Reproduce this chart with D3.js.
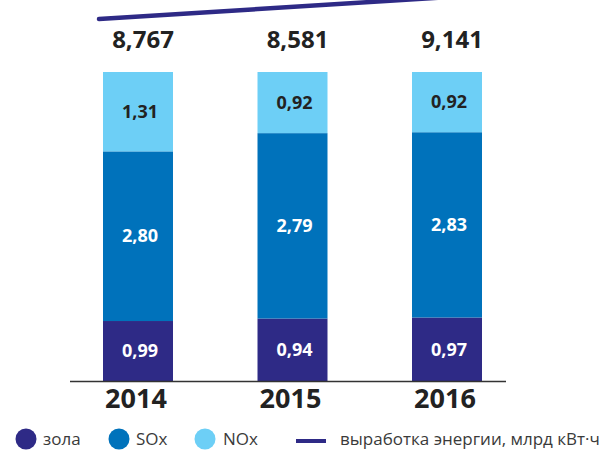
<!DOCTYPE html>
<html>
<head>
<meta charset="utf-8">
<script src="https://cdn.jsdelivr.net/npm/d3@7"></script>
<style>
  body { margin: 0; background: #fff; }
  svg { display: block; font-family: 'Open Sans', sans-serif; }
</style>
</head>
<body>
<div id="container"></div>
<script>
const width = 608
const height = 453

// data
const years = ['2014', '2015', '2016']
const zola = [0.99, 0.94, 0.97]
const sox = [2.80, 2.79, 2.83]
const nox = [1.31, 0.92, 0.92]
const generation = [8.767, 8.581, 9.141]

const seriesNames = ['zola', 'sox', 'nox']
const legendLabels = ['зола', 'SOx', 'NOx']
const lineLabel = 'выработка энергии, млрд кВт·ч'
const colors = { zola: '#2e2a86', sox: '#0072bb', nox: '#6dcff6' }
const labelColors = { zola: '#fff', sox: '#fff', nox: '#222' }

const rows = years.map((y, i) => ({ year: y, zola: zola[i], sox: sox[i], nox: nox[i] }))

const svg = d3.select('div#container').append('svg')
    .attr('width', width)
    .attr('height', height)

//----------------------------SCALES----------------------------//
const xScale = d3.scaleBand()
    .domain(years)
    .range([25.75, 559.25])
    .paddingInner(0.547)
    .paddingOuter(0.5)

const yScale = d3.scaleLinear().domain([0, 1]).range([381, 72])

const stack = d3.stack().keys(seriesNames).offset(d3.stackOffsetExpand)
const stacked = stack(rows)

const fmt = v => d3.format('.2f')(v).replace('.', ',')

//-----------------------------BARS-----------------------------//
const layers = svg.selectAll('g.layer')
    .data(stacked)
    .enter()
    .append('g')
    .attr('class', 'layer')
    .attr('fill', d => colors[d.key])

layers.selectAll('rect')
    .data(d => d)
    .enter()
    .append('rect')
    .attr('x', d => xScale(d.data.year))
    .attr('width', xScale.bandwidth())
    .attr('y', d => yScale(d[1]))
    .attr('height', d => yScale(d[0]) - yScale(d[1]))

layers.selectAll('text')
    .data(d => d.map(p => ({ p: p, key: d.key })))
    .enter()
    .append('text')
    .attr('x', d => xScale(d.p.data.year) + xScale.bandwidth() / 2 + 2)
    .attr('y', d => (yScale(d.p[0]) + yScale(d.p[1])) / 2)
    .attr('dy', '0.35em')
    .attr('text-anchor', 'middle')
    .attr('fill', d => labelColors[d.key])
    .style('font-size', '18px')
    .style('font-weight', 700)
    .text(d => fmt(d.p.data[d.key]))

//-----------------------------AXIS-----------------------------//
svg.append('line')
    .attr('x1', 70)
    .attr('x2', 506)
    .attr('y1', yScale(0) + 0.5)
    .attr('y2', yScale(0) + 0.5)
    .attr('stroke', '#333')
    .attr('stroke-width', 1.5)

svg.selectAll('text.year')
    .data(years)
    .enter()
    .append('text')
    .attr('class', 'year')
    .attr('x', d => xScale(d) + xScale.bandwidth() / 2 - 2)
    .attr('y', 408)
    .attr('text-anchor', 'middle')
    .attr('fill', '#222')
    .style('font-size', '27px')
    .style('font-weight', 700)
    .text(d => d)

// totals (generation)
svg.selectAll('text.total')
    .data(years)
    .enter()
    .append('text')
    .attr('class', 'total')
    .attr('x', d => xScale(d) + xScale.bandwidth() / 2 + 5)
    .attr('y', 48)
    .attr('text-anchor', 'middle')
    .attr('fill', '#222')
    .style('font-size', '24px')
    .style('font-weight', 700)
    .text((d, i) => d3.format(',.3f')(generation[i]).replace('.', ','))

//----------------------------LINE------------------------------//
// trend of generation from first to last year, runs off the top edge
const genScale = d3.scaleLinear()
    .domain([generation[0], generation[generation.length - 1]])
    .range([19, -5])

const linePts = [
    { x: xScale(years[0]) - 4, v: generation[0] },
    { x: xScale(years[years.length - 1]) + xScale.bandwidth(), v: generation[generation.length - 1] }
]

svg.append('path')
    .datum(linePts)
    .attr('fill', 'none')
    .attr('stroke', '#2e2a86')
    .attr('stroke-width', 4.5)
    .attr('stroke-linecap', 'round')
    .attr('d', d3.line().x(d => d.x).y(d => genScale(d.v)))

//----------------------------LEGEND----------------------------//
const legendY = 439
const legendItems = [
    { key: 'zola', cx: 26, tx: 43 },
    { key: 'sox', cx: 119, tx: 136 },
    { key: 'nox', cx: 205, tx: 223 }
]

const leg = svg.append('g').attr('class', 'legend')
legendItems.forEach((it, i) => {
    leg.append('circle')
        .attr('cx', it.cx)
        .attr('cy', legendY)
        .attr('r', 10.5)
        .attr('fill', colors[it.key])
    leg.append('text')
        .attr('x', it.tx)
        .attr('y', legendY)
        .attr('dy', '0.35em')
        .attr('fill', '#3a3a3a')
        .style('font-size', '17px')
        .text(legendLabels[i])
})

leg.append('line')
    .attr('x1', 296)
    .attr('x2', 326)
    .attr('y1', legendY + 2)
    .attr('y2', legendY + 2)
    .attr('stroke', '#2e2a86')
    .attr('stroke-width', 4)

leg.append('text')
    .attr('x', 340)
    .attr('y', legendY)
    .attr('dy', '0.35em')
    .attr('fill', '#3a3a3a')
    .style('font-size', '17px')
    .text(lineLabel)
</script>
</body>
</html>
